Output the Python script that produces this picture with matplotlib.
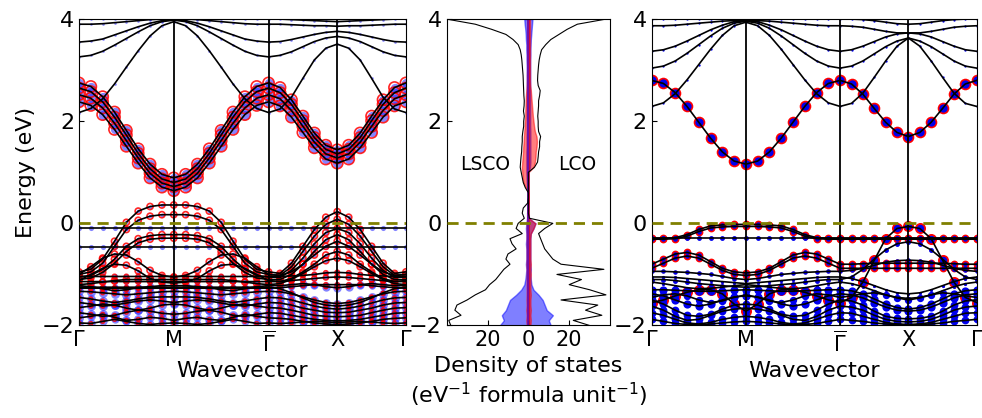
import numpy as np
import matplotlib
matplotlib.use("Agg")
import matplotlib.pyplot as plt

# ---- k-path ----
k_labels = ["Γ", "M", r"$\overline{\mathrm{\Gamma}}$", "X", "Γ"]
k_nodes = [0.0, 1.38, 2.76, 3.76, 4.76]

# ---- LSCO bands (left): energies read along G->M (9 pts) and Gbar->X (7 pts) ----
lsco_gm = [
    [4.00, 4.00, 4.00, 4.00, 4.00, 4.00, 4.00, 4.00, 4.00],
    [3.90, 3.90, 3.91, 3.93, 3.95, 3.97, 3.99, 4.00, 4.00],
    [3.55, 3.57, 3.61, 3.69, 3.77, 3.85, 3.92, 3.97, 3.99],
    [3.26, 3.29, 3.37, 3.49, 3.62, 3.75, 3.87, 3.95, 3.98],
    [2.17, 2.25, 2.44, 2.73, 3.06, 3.38, 3.67, 3.87, 3.95],
    [2.75, 2.68, 2.48, 2.18, 1.82, 1.46, 1.16, 0.96, 0.89],
    [2.65, 2.58, 2.38, 2.08, 1.73, 1.37, 1.07, 0.87, 0.80],
    [2.52, 2.45, 2.26, 1.96, 1.62, 1.28, 0.98, 0.79, 0.72],
    [2.38, 2.31, 2.13, 1.84, 1.51, 1.18, 0.89, 0.71, 0.64],
    [-0.95, -0.90, -0.70, -0.35, 0.02, 0.24, 0.33, 0.36, 0.36],
    [-1.00, -0.95, -0.78, -0.45, -0.12, 0.06, 0.14, 0.17, 0.17],
    [-1.05, -1.02, -0.90, -0.70, -0.45, -0.30, -0.24, -0.22, -0.22],
    [-1.10, -1.07, -0.96, -0.78, -0.55, -0.38, -0.31, -0.29, -0.29],
    [-1.00, -0.85, -0.68, -0.60, -0.62, -0.75, -0.92, -1.02, -1.05],
    [-1.12, -1.00, -0.88, -0.80, -0.82, -0.93, -1.08, -1.15, -1.17],
    [-1.20, -1.18, -1.15, -1.12, -1.10, -1.10, -1.10, -1.10, -1.10],
    [-0.10, -0.10, -0.10, -0.10, -0.10, -0.10, -0.10, -0.10, -0.10],
    [-0.47, -0.47, -0.47, -0.47, -0.47, -0.47, -0.47, -0.47, -0.47],
    [-1.04, -1.04, -1.04, -1.04, -1.04, -1.04, -1.04, -1.04, -1.04],
    [-1.14, -1.14, -1.14, -1.14, -1.14, -1.14, -1.14, -1.14, -1.14],
    [-1.27, -1.27, -1.27, -1.27, -1.27, -1.27, -1.27, -1.27, -1.27],
    [-1.25, -1.25, -1.25, -1.25, -1.25, -1.25, -1.25, -1.25, -1.25],
    [-1.33, -1.34, -1.36, -1.38, -1.40, -1.38, -1.36, -1.34, -1.33],
    [-1.45, -1.48, -1.52, -1.55, -1.52, -1.48, -1.45, -1.44, -1.44],
    [-1.55, -1.58, -1.62, -1.60, -1.56, -1.52, -1.50, -1.52, -1.55],
    [-1.65, -1.62, -1.58, -1.60, -1.66, -1.70, -1.66, -1.60, -1.58],
    [-1.75, -1.78, -1.82, -1.80, -1.74, -1.70, -1.72, -1.76, -1.78],
    [-1.85, -1.82, -1.78, -1.84, -1.90, -1.88, -1.84, -1.86, -1.90],
    [-1.95, -1.96, -1.92, -1.88, -1.92, -1.96, -1.98, -1.96, -1.95],
    [-1.22, -1.24, -1.28, -1.32, -1.30, -1.26, -1.24, -1.22, -1.22],
]
lsco_gx = [
    [4.00, 4.00, 3.99, 3.98, 3.97, 3.96, 3.95],
    [3.90, 3.90, 3.89, 3.88, 3.87, 3.87, 3.86],
    [3.55, 3.56, 3.60, 3.65, 3.70, 3.74, 3.76],
    [3.26, 3.29, 3.36, 3.46, 3.56, 3.63, 3.66],
    [2.17, 2.24, 2.47, 2.84, 3.20, 3.43, 3.51],
    [2.75, 2.66, 2.42, 2.10, 1.77, 1.53, 1.44],
    [2.65, 2.56, 2.33, 2.01, 1.68, 1.45, 1.36],
    [2.52, 2.44, 2.21, 1.90, 1.59, 1.36, 1.28],
    [2.38, 2.30, 2.08, 1.78, 1.48, 1.26, 1.18],
    [-0.95, -0.98, -0.78, -0.45, -0.12, 0.12, 0.23],
    [-1.00, -1.02, -0.85, -0.55, -0.25, -0.02, 0.08],
    [-1.05, -1.06, -0.92, -0.68, -0.40, -0.18, -0.10],
    [-1.10, -1.10, -1.00, -0.80, -0.55, -0.32, -0.22],
    [-1.00, -1.02, -0.95, -0.80, -0.62, -0.45, -0.35],
    [-1.12, -1.14, -1.08, -0.95, -0.80, -0.62, -0.55],
    [-1.20, -1.18, -1.10, -0.98, -0.85, -0.73, -0.68],
    [-0.10, -0.10, -0.10, -0.10, -0.10, -0.10, -0.10],
    [-0.47, -0.47, -0.47, -0.47, -0.47, -0.47, -0.47],
    [-1.04, -1.04, -1.03, -1.02, -1.00, -0.97, -0.96],
    [-1.14, -1.14, -1.12, -1.10, -1.08, -1.06, -1.05],
    [-1.27, -1.26, -1.24, -1.22, -1.20, -1.20, -1.20],
    [-1.25, -1.28, -1.36, -1.46, -1.55, -1.60, -1.62],
    [-1.33, -1.34, -1.38, -1.44, -1.50, -1.55, -1.57],
    [-1.45, -1.46, -1.50, -1.56, -1.62, -1.66, -1.68],
    [-1.55, -1.56, -1.60, -1.66, -1.70, -1.74, -1.75],
    [-1.65, -1.66, -1.70, -1.75, -1.80, -1.82, -1.83],
    [-1.75, -1.76, -1.80, -1.84, -1.88, -1.90, -1.91],
    [-1.85, -1.86, -1.88, -1.92, -1.95, -1.97, -1.98],
    [-1.95, -1.96, -1.95, -1.93, -1.92, -1.93, -1.94],
    [-1.22, -1.22, -1.20, -1.18, -1.20, -1.24, -1.26],
]
lsco_red = [0, 0, 0, 0, 0, 1, 1, 1, 1, 0.3, 0.3, 0.3, 0.3, 0.3, 0.3, 0.3,
            0, 0, 0.15, 0.2, 0.12, 0.08, 0.1, 0.1, 0.1, 0.1, 0.1, 0.1, 0.1, 0.12]
lsco_blue = [0.08, 0.08, 0.08, 0.08, 0.08, 1, 1, 1, 1, 0.15, 0.15, 0.15, 0.15, 0.15, 0.15, 0.15,
             0.3, 0.3, 0.3, 0.3, 0.5, 0.4, 0.9, 0.9, 0.9, 0.9, 0.9, 0.9, 0.8, 0.8]

# ---- LCO bands (right) ----
lco_gm = [
    [4.00, 4.00, 4.00, 4.00, 4.00, 4.00, 4.00, 4.00, 4.00],
    [3.87, 3.87, 3.88, 3.90, 3.92, 3.94, 3.96, 3.97, 3.98],
    [3.37, 3.40, 3.47, 3.57, 3.68, 3.79, 3.88, 3.95, 3.97],
    [3.04, 3.08, 3.18, 3.33, 3.50, 3.67, 3.82, 3.92, 3.96],
    [2.29, 2.36, 2.54, 2.81, 3.11, 3.41, 3.68, 3.87, 3.94],
    [2.80, 2.74, 2.56, 2.29, 1.98, 1.67, 1.40, 1.22, 1.16],
    [-0.29, -0.29, -0.28, -0.22, -0.12, -0.05, -0.03, -0.02, -0.02],
    [-0.31, -0.31, -0.30, -0.25, -0.16, -0.09, -0.07, -0.06, -0.06],
    [-0.29, -0.29, -0.29, -0.29, -0.29, -0.29, -0.29, -0.29, -0.29],
    [-0.80, -0.70, -0.60, -0.57, -0.62, -0.75, -0.88, -0.95, -0.97],
    [-0.88, -0.78, -0.68, -0.64, -0.68, -0.80, -0.92, -1.00, -1.02],
    [-1.55, -1.50, -1.42, -1.35, -1.30, -1.30, -1.38, -1.58, -1.72],
    [-1.10, -1.10, -1.12, -1.15, -1.18, -1.20, -1.22, -1.24, -1.25],
    [-0.94, -0.94, -0.95, -0.96, -0.98, -1.00, -1.04, -1.08, -1.10],
    [-1.05, -1.05, -1.06, -1.08, -1.10, -1.12, -1.14, -1.16, -1.18],
    [-1.15, -1.18, -1.22, -1.26, -1.28, -1.27, -1.25, -1.22, -1.20],
    [-1.30, -1.30, -1.31, -1.32, -1.33, -1.33, -1.32, -1.31, -1.30],
    [-1.38, -1.42, -1.50, -1.58, -1.62, -1.58, -1.50, -1.44, -1.42],
    [-1.50, -1.58, -1.70, -1.80, -1.82, -1.78, -1.68, -1.60, -1.58],
    [-1.62, -1.70, -1.82, -1.90, -1.88, -1.80, -1.72, -1.68, -1.66],
    [-1.75, -1.80, -1.88, -1.95, -1.97, -1.94, -1.88, -1.84, -1.82],
    [-1.88, -1.92, -1.96, -1.98, -1.99, -1.97, -1.95, -1.93, -1.92],
    [-1.45, -1.40, -1.38, -1.42, -1.50, -1.55, -1.52, -1.45, -1.40],
]
lco_gx = [
    [4.00, 4.00, 3.99, 3.97, 3.94, 3.91, 3.90],
    [3.87, 3.86, 3.84, 3.80, 3.76, 3.73, 3.73],
    [3.37, 3.40, 3.47, 3.56, 3.65, 3.71, 3.73],
    [3.04, 3.08, 3.18, 3.32, 3.46, 3.57, 3.63],
    [2.29, 2.35, 2.55, 2.86, 3.18, 3.47, 3.63],
    [2.80, 2.73, 2.53, 2.25, 1.98, 1.78, 1.70],
    [-0.29, -0.29, -0.29, -0.29, -0.29, -0.29, -0.29],
    [-0.31, -0.31, -0.31, -0.31, -0.31, -0.31, -0.31],
    [-0.29, -0.29, -0.29, -0.29, -0.29, -0.29, -0.29],
    [-0.80, -0.80, -0.79, -0.78, -0.78, -0.78, -0.78],
    [-0.88, -0.88, -0.88, -0.88, -0.88, -0.88, -0.88],
    [-1.55, -1.45, -1.15, -0.72, -0.30, -0.10, -0.06],
    [-1.10, -1.05, -0.90, -0.70, -0.52, -0.40, -0.36],
    [-0.94, -0.92, -0.88, -0.82, -0.76, -0.73, -0.72],
    [-1.05, -1.08, -1.14, -1.22, -1.30, -1.36, -1.38],
    [-1.15, -1.18, -1.24, -1.32, -1.40, -1.45, -1.47],
    [-1.30, -1.32, -1.38, -1.48, -1.58, -1.65, -1.68],
    [-1.38, -1.40, -1.46, -1.55, -1.64, -1.70, -1.72],
    [-1.50, -1.52, -1.60, -1.72, -1.82, -1.86, -1.87],
    [-1.62, -1.64, -1.70, -1.80, -1.88, -1.92, -1.93],
    [-1.75, -1.76, -1.82, -1.88, -1.94, -1.97, -1.98],
    [-1.88, -1.90, -1.92, -1.95, -1.97, -1.98, -1.99],
    [-1.45, -1.42, -1.38, -1.36, -1.40, -1.46, -1.50],
]
lco_red = [0, 0, 0, 0, 0, 1, 0.45, 0.45, 0, 0.45, 0.45, 0.9, 0.1, 0.1, 0.05, 0.05,
           0.1, 0.15, 0.15, 0.15, 0.15, 0.15, 0.25]
lco_blue = [0.08, 0.08, 0.08, 0.08, 0.08, 1, 0.3, 0.3, 0.35, 0.3, 0.3, 0.8, 0.35, 0.3, 0.15, 0.15,
            1.0, 1.0, 0.9, 0.9, 0.9, 0.9, 0.8]

# ---- density of states, E = -2.0 ... 4.0 in 0.1 eV steps ----
dos_energy = np.round(np.arange(-2.0, 4.001, 0.1), 2)
lsco_total = [38, 39, 33, 36, 35, 30, 26, 21, 19, 16,
              14, 12, 9, 11, 10, 6, 8, 9, 3, 6,
              5, 2, 3, 2.5, 0.3, 0, 0, 1.5, 2.5, 3,
              3.5, 4, 3.8, 3.6, 3.3, 3.2, 3.0, 3.0, 2.7, 2.3,
              2.3, 2.0, 2.4, 2.1, 2.0, 2.2, 2.3, 2.4, 2.5, 2.6,
              2.8, 3.0, 3.2, 3.5, 4.0, 5.0, 7.5, 11, 18, 26, 40]
lco_total = [30, 22, 36, 28, 34, 16, 38, 30, 20, 26,
             14, 37, 16, 12, 10, 8, 7, 6, 5, 8,
             12, 0.5, 0, 0, 0, 0, 0, 0, 0, 0,
             0, 3, 4.5, 4.8, 5.0, 5.5, 5.5, 6.0, 5.0, 4.8,
             4.8, 4.6, 4.8, 5.0, 5.0, 5.5, 5.8, 4.8, 4.5, 4.6,
             4.8, 5.0, 5.3, 5.8, 6.5, 8.5, 11, 15, 19, 24, 38]
lsco_pdos_blue = [14, 12, 13, 11, 10, 9, 6, 3.5, 2.0, 1.5,
                  1.2, 1.0, 1.2, 1.0, 1.0, 1.0, 1.2, 1.0, 1.0, 1.2,
                  1.0, 0.6, 0.6, 0.5, 0.2, 0.2, 0.2, 0.6, 0.8, 0.9,
                  1.0, 1.0, 1.0, 1.0, 1.0, 0.9, 0.9, 0.9, 0.8, 0.8,
                  0.8, 0.8, 0.8, 0.8, 0.8, 0.8, 0.8, 0.8, 0.8, 0.8,
                  0.8, 0.8, 0.9, 0.9, 1.0, 1.0, 1.2, 1.3, 1.5, 1.8, 2.0]
lsco_pdos_red = [0.8, 1.0, 0.8, 1.0, 0.8, 0.9, 0.8, 0.8, 0.8, 0.8,
                 0.8, 0.8, 0.9, 0.8, 0.8, 0.8, 0.8, 0.8, 0.8, 0.8,
                 0.8, 0.6, 0.6, 0.5, 0.1, 0.0, 0.1, 1.2, 2.4, 2.8,
                 3.0, 3.2, 3.0, 2.8, 2.6, 2.5, 2.3, 2.2, 2.0, 1.8,
                 1.7, 1.5, 1.5, 1.4, 1.3, 1.2, 1.0, 0.8, 0.7, 0.7,
                 0.6, 0.6, 0.6, 0.6, 0.6, 0.6, 0.6, 0.6, 0.6, 0.6, 0.6]
lco_pdos_blue = [11, 10, 12, 9, 8, 7, 5, 2.5, 1.5, 1.2,
                 1.0, 1.2, 1.0, 1.0, 1.0, 1.0, 1.0, 1.0, 1.2, 2.5,
                 3.5, 0.3, 0.1, 0.1, 0.1, 0.1, 0.1, 0.1, 0.1, 0.1,
                 0.1, 0.8, 1.0, 1.0, 1.0, 1.0, 1.0, 1.0, 1.0, 0.9,
                 0.9, 0.9, 0.9, 0.9, 0.9, 0.9, 0.9, 0.9, 0.9, 0.9,
                 0.9, 0.9, 0.9, 1.0, 1.0, 1.1, 1.2, 1.4, 1.6, 1.8, 2.0]
lco_pdos_red = [1.0, 1.2, 1.0, 1.2, 1.0, 1.0, 1.2, 1.0, 1.0, 1.0,
                1.2, 1.0, 1.2, 1.0, 1.0, 1.0, 1.0, 1.0, 1.2, 2.5,
                3.5, 0.3, 0.0, 0.0, 0.0, 0.0, 0.0, 0.0, 0.0, 0.0,
                0.0, 2.5, 3.2, 3.5, 3.6, 4.0, 4.2, 4.0, 3.2, 2.8,
                2.5, 2.2, 2.0, 1.8, 1.6, 1.4, 1.2, 0.9, 0.8, 0.8,
                0.8, 0.8, 0.8, 0.8, 0.8, 0.8, 0.8, 0.8, 0.8, 0.8, 0.8]


def build_k():
    return np.concatenate([
        np.linspace(k_nodes[0], k_nodes[1], 9),
        np.linspace(k_nodes[1], k_nodes[2], 9)[1:],
        np.linspace(k_nodes[2], k_nodes[3], 7)[1:],
        np.linspace(k_nodes[3], k_nodes[4], 7)[1:],
    ])


def full_path(gm, gx):
    # M->Gbar retraces G->M and X->G retraces Gbar->X (mirror symmetry of the path)
    return np.array(gm + gm[-2::-1] + gx[1:] + gx[-2::-1])


def draw_bands(ax, gm_list, gx_list, red_w, blue_w, solid):
    k = build_k()
    for gm, gx, wr, wb in zip(gm_list, gx_list, red_w, blue_w):
        e = full_path(gm, gx)
        if solid:
            if wr > 0:
                ax.scatter(k, e, s=70 * wr, color="red", lw=0, zorder=1)
            ax.scatter(k, e, s=35 * wb, color="#0000ee", lw=0, zorder=2)
        else:
            ax.scatter(k, e, s=45 * wb, color="#2020ff", alpha=0.55, lw=0, zorder=1)
            if wr > 0:
                ax.scatter(k, e, s=65 * wr, facecolors="none", edgecolors="red",
                           lw=1.2, alpha=0.85, zorder=2)
        ax.plot(k, e, color="k", lw=1.2, zorder=3)
    for kn in k_nodes[1:-1]:
        ax.axvline(kn, color="k", lw=1.3, zorder=4)
    ax.axhline(0, color="#808000", lw=2, ls=(0, (4, 2.5)), zorder=5)
    ax.set_xlim(k_nodes[0], k_nodes[-1])
    ax.set_ylim(-2, 4)
    ax.set_xticks(k_nodes)
    ax.set_xticklabels(k_labels, fontsize=15)
    ax.set_xlabel("Wavevector", fontsize=16)


fig = plt.figure(figsize=(9.82, 4.18), dpi=100)
ax1 = fig.add_axes([0.0804, 0.2213, 0.333, 0.733])
ax2 = fig.add_axes([0.4549, 0.2213, 0.1663, 0.733])
ax3 = fig.add_axes([0.6636, 0.2213, 0.331, 0.733])

draw_bands(ax1, lsco_gm, lsco_gx, lsco_red, lsco_blue, solid=False)
draw_bands(ax3, lco_gm, lco_gx, lco_red, lco_blue, solid=True)
ax1.set_ylabel("Energy (eV)", fontsize=16)

# DOS panel: LSCO to the left, LCO to the right
lsco_t = np.array(lsco_total)
lco_t = np.array(lco_total)
ax2.fill_betweenx(dos_energy, -np.array(lsco_pdos_blue), 0, color="blue", alpha=0.5, lw=1)
ax2.fill_betweenx(dos_energy, 0, np.array(lco_pdos_blue), color="blue", alpha=0.5, lw=1)
ax2.fill_betweenx(dos_energy, -np.array(lsco_pdos_red), 0, color="red", alpha=0.5, lw=1)
ax2.fill_betweenx(dos_energy, 0, np.array(lco_pdos_red), color="red", alpha=0.5, lw=1)
ax2.axvline(0, color="#6a10b0", lw=1.3)
ax2.plot(-lsco_t, dos_energy, color="k", lw=0.8)
ax2.plot(lco_t, dos_energy, color="k", lw=0.8)
ax2.axhline(0, color="#808000", lw=2, ls=(0, (4, 2.5)), zorder=5)
ax2.set_xlim(-40, 40)
ax2.set_ylim(-2, 4)
ax2.set_xticks([-20, 0, 20])
ax2.set_xticklabels(["20", "0", "20"])
ax2.set_xlabel("Density of states\n(eV$^{-1}$ formula unit$^{-1}$)", fontsize=16)
ax2.text(-21, 1.15, "LSCO", fontsize=13.5, ha="center", va="center")
ax2.text(24, 1.15, "LCO", fontsize=13.5, ha="center", va="center")

for ax in (ax1, ax2, ax3):
    ax.set_yticks([-2, 0, 2, 4])
    ax.tick_params(axis="y", labelsize=16, direction="in")
    ax.tick_params(axis="x", labelsize=15, direction="in")

fig.savefig("out.png", dpi=100)
